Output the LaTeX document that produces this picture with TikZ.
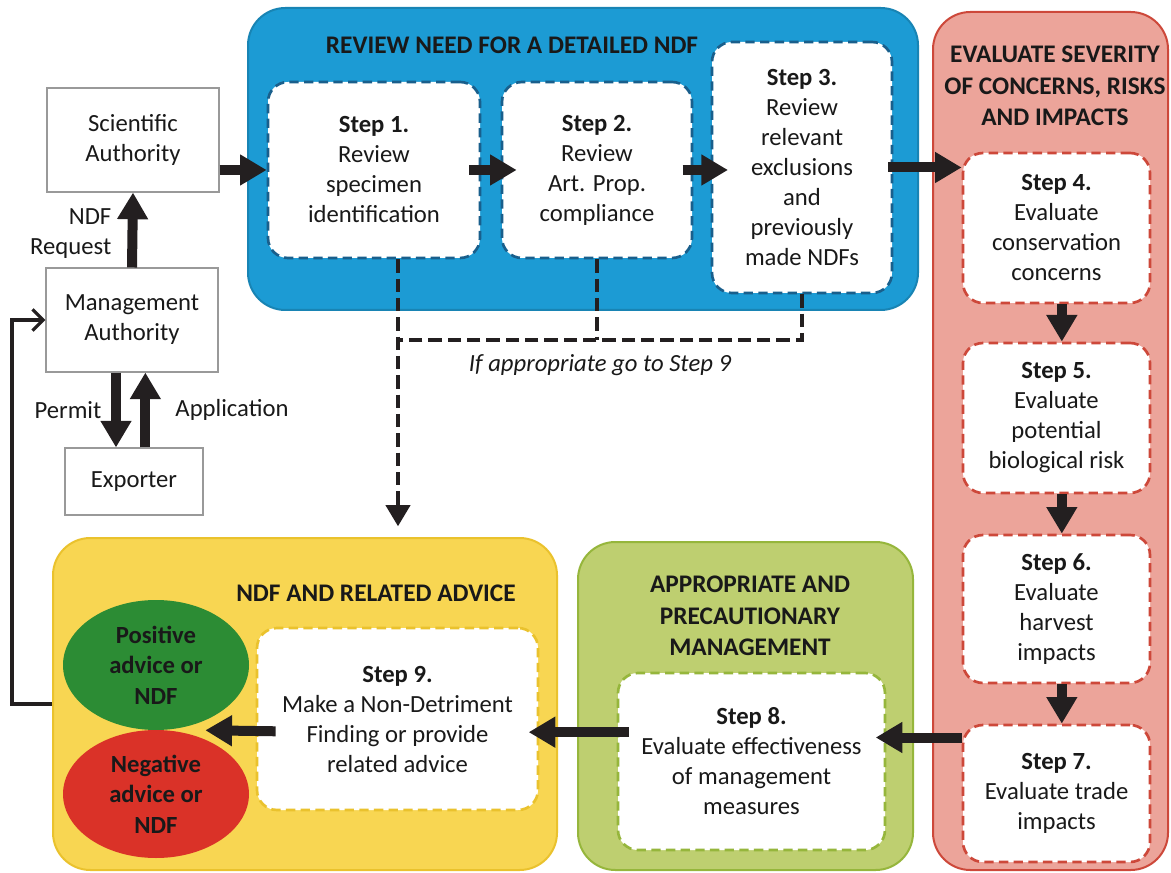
\documentclass[tikz,border=0pt]{standalone}
\usepackage{fontspec}
\setmainfont{Carlito}
\usetikzlibrary{arrows.meta,shapes.geometric}

\definecolor{revblue}{RGB}{28,155,212}
\definecolor{revline}{RGB}{25,95,140}
\definecolor{evalred}{RGB}{236,164,154}
\definecolor{evalline}{RGB}{205,72,58}
\definecolor{mgmtgreen}{RGB}{190,207,112}
\definecolor{mgmtline}{RGB}{150,182,60}
\definecolor{ndfyellow}{RGB}{248,214,82}
\definecolor{ndfline}{RGB}{234,194,45}
\definecolor{posgreen}{RGB}{44,140,52}
\definecolor{negred}{RGB}{218,50,40}
\definecolor{arrowink}{RGB}{35,31,32}

\begin{document}
\begin{tikzpicture}[x=0.75pt,y=-0.75pt,
    txt/.style={font=\fontsize{18.5}{22.5}\selectfont, align=center, text=black!90},
    ttl/.style={font=\bfseries\fontsize{19}{23.5}\selectfont, align=center, text=black!90},
    authbox/.style={txt, draw=black!40, line width=0.8pt, fill=white, inner sep=0pt},
    groupbox/.style={rounded corners=28pt, line width=1.5pt, inner sep=0pt},
    stepbox/.style={txt, fill=white, rounded corners=15pt, line width=2pt, dash pattern=on 7pt off 4pt, inner sep=0pt},
    bigarrow/.style={draw=arrowink, line width=7.5pt, -{Triangle[length=20pt,width=22pt]}},
    dashline/.style={draw=arrowink, line width=3.5pt, dash pattern=on 10pt off 4.5pt},
    advice/.style={ellipse, txt, font=\bfseries\fontsize{18.5}{23}\selectfont, inner sep=0pt}]
    \useasboundingbox (0,0) rectangle (1171,873);

    % left column
    \node[authbox, minimum width=129pt, minimum height=78pt] (sci) at (133,140) {Scientific\\Authority};
    \node[authbox, minimum width=129pt, minimum height=78pt] (man) at (132,320) {Management\\Authority};
    \node[authbox, minimum width=103.5pt, minimum height=50.25pt] (exp) at (134,481.5) {Exporter};
    \node[txt, anchor=east, align=right] (req) at (116,234) {NDF\\Request};
    \node[txt] (perm) at (68,410) {Permit};
    \node[txt] (appl) at (232,410) {Application};

    % group boxes
    \node[groupbox, fill=revblue, draw=revblue!85!black, minimum width=502.5pt, minimum height=226.5pt] (rev) at (583,159) {};
    \node[groupbox, fill=evalred, draw=evalline, minimum width=176.25pt, minimum height=643.5pt] (eval) at (1050.5,441) {};
    \node[groupbox, fill=mgmtgreen, draw=mgmtline, minimum width=251.25pt, minimum height=246pt] (mgmt) at (745.5,706) {};
    \node[groupbox, fill=ndfyellow, draw=ndfline, minimum width=378pt, minimum height=249pt] (ndf) at (305,704) {};

    \node[ttl] (revttl) at (512,45) {REVIEW NEED FOR A DETAILED NDF};
    \node[ttl] (evalttl) at (1055,86) {EVALUATE SEVERITY\\OF CONCERNS, RISKS\\AND IMPACTS};
    \node[ttl] (mgmtttl) at (750,616) {APPROPRIATE AND\\PRECAUTIONARY\\MANAGEMENT};
    \node[ttl] (ndfttl) at (376,593) {NDF AND RELATED ADVICE};

    % steps
    \node[stepbox, draw=revline, minimum width=159pt, minimum height=132pt] (s1) at (374,170) {\textbf{Step 1.}\\Review\\specimen\\identification};
    \node[stepbox, draw=revline, minimum width=142.5pt, minimum height=132pt] (s2) at (597,170) {\textbf{Step 2.}\\Review\\Art. Prop.\\compliance};
    \node[stepbox, draw=revline, minimum width=135pt, minimum height=188.25pt] (s3) at (802,167.5) {\textbf{Step 3.}\\Review\\relevant\\exclusions\\and\\previously\\made NDFs};
    \node[stepbox, draw=evalline, minimum width=140.25pt, minimum height=112.5pt] (s4) at (1056.5,228) {\textbf{Step 4.}\\Evaluate\\conservation\\concerns};
    \node[stepbox, draw=evalline, minimum width=140.25pt, minimum height=112.5pt] (s5) at (1056.5,418) {\textbf{Step 5.}\\Evaluate\\potential\\biological risk};
    \node[stepbox, draw=evalline, minimum width=140.25pt, minimum height=111pt] (s6) at (1056.5,609) {\textbf{Step 6.}\\Evaluate\\harvest\\impacts};
    \node[stepbox, draw=evalline, minimum width=140.25pt, minimum height=102.75pt] (s7) at (1056.5,793.5) {\textbf{Step 7.}\\Evaluate trade\\impacts};
    \node[stepbox, draw=mgmtline, minimum width=200.25pt, minimum height=132.75pt] (s8) at (751.5,761.5) {\textbf{Step 8.}\\Evaluate effectiveness\\of management\\measures};
    \node[stepbox, draw=ndfline, minimum width=210.75pt, minimum height=136.5pt] (s9) at (397.5,719) {\textbf{Step 9.}\\Make a Non-Detriment\\Finding or provide\\related advice};

    \node[advice, fill=posgreen, minimum width=139.5pt, minimum height=97.5pt] (pos) at (156,665) {Positive\\advice or\\NDF};
    \node[advice, fill=negred, minimum width=139.5pt, minimum height=96pt] (neg) at (156,794) {Negative\\advice or\\NDF};

    % arrows
    \draw[bigarrow] (man.north) -- (sci.south);
    \coordinate (pm) at ([xshift=-12pt]man.south);
    \coordinate (ap) at ([xshift=10pt]man.south);
    \draw[bigarrow] (pm) -- (pm |- exp.north);
    \draw[bigarrow] (ap |- exp.north) -- (ap);
    \draw[bigarrow] (s1.west -| sci.east) -- (s1.west);
    \draw[bigarrow, shorten <=-9pt, shorten >=-12pt] (s1.east) -- (s2.west);
    \draw[bigarrow, shorten <=-8pt, shorten >=-13pt] (s2.east) -- (s2.east -| s3.west);
    \draw[bigarrow, shorten <=-4pt] (s3.east) -- (s3.east -| s4.west);
    \foreach \a/\b in {s4/s5,s5/s6,s6/s7}
        \draw[bigarrow] ([xshift=4pt]\a.south) -- ([xshift=4pt]\b.north);
    \coordinate (a7) at ([yshift=42pt]s7.west);
    \draw[bigarrow, shorten >=-8pt] (a7) -- (a7 -| s8.east);
    \coordinate (a8) at ([yshift=22pt]s8.west);
    \draw[bigarrow, shorten <=-9pt, shorten >=-8pt] (a8) -- (a8 -| s9.east);
    \coordinate (a9) at ([yshift=-9pt]s9.west);
    \draw[bigarrow, shorten <=-15pt] (a9) -- ([xshift=37pt]pos.south);

    % feedback to management
    \draw[arrowink, line width=2.5pt, -{Straight Barb[length=8pt,width=16pt]}] (ndf.west) -- ++(-40,0) |- (man.west);

    % if appropriate
    \coordinate (d1) at ([xshift=18pt]s1.south);
    \coordinate (jn) at (398,340);
    \draw[dashline, -{Triangle[length=16pt,width=18pt,sep=0pt]}] (d1) -- ([yshift=8pt]d1 |- ndf.north);
    \draw[dashline] (s2.south) -- (s2.south |- jn);
    \draw[dashline] (s3.south) |- (jn);
    \node[txt, font=\itshape\fontsize{18.5}{22.5}\selectfont] (goto) at (600,365) {If appropriate go to Step 9};
\end{tikzpicture}
\end{document}
